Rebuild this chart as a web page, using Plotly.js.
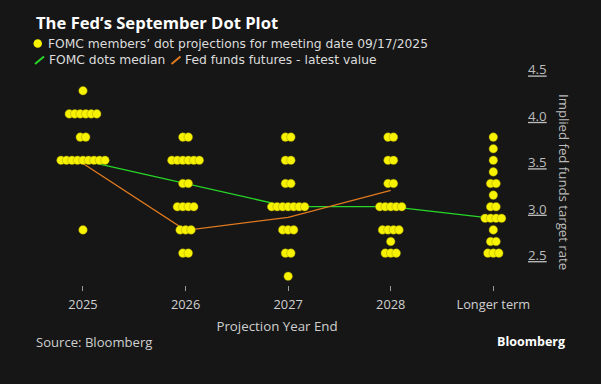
<!DOCTYPE html>
<html>
<head>
<meta charset="utf-8">
<script src="https://cdn.plot.ly/plotly-3.0.1.min.js"></script>
<style>html,body{margin:0;padding:0;background:#161616;}</style>
</head>
<body>
<div id="chart" style="width:601px;height:384px;"></div>
<script>
// ---- data ----
const categories = ['2025', '2026', '2027', '2028', 'Longer term'];
const dots2025 = [4.375,
  4.125, 4.125, 4.125, 4.125, 4.125, 4.125,
  3.875, 3.875,
  3.625, 3.625, 3.625, 3.625, 3.625, 3.625, 3.625, 3.625, 3.625,
  2.875];
const dots2026 = [3.875, 3.875,
  3.625, 3.625, 3.625, 3.625, 3.625, 3.625,
  3.375, 3.375,
  3.125, 3.125, 3.125, 3.125,
  2.875, 2.875, 2.875,
  2.625, 2.625];
const dots2027 = [3.875, 3.875,
  3.625, 3.625,
  3.375, 3.375,
  3.125, 3.125, 3.125, 3.125, 3.125, 3.125, 3.125,
  2.875, 2.875, 2.875,
  2.625, 2.625,
  2.375];
const dots2028 = [3.875, 3.875,
  3.625, 3.625,
  3.375, 3.375,
  3.125, 3.125, 3.125, 3.125, 3.125,
  2.875, 2.875, 2.875, 2.875,
  2.75,
  2.625, 2.625, 2.625];
const dotsLonger = [3.875, 3.75, 3.625, 3.5,
  3.375, 3.375,
  3.25,
  3.125, 3.125,
  3.0, 3.0, 3.0, 3.0,
  2.875,
  2.75, 2.75,
  2.625, 2.625, 2.625];
const medianValues = [3.625, 3.375, 3.125, 3.125, 3.0];
const futuresCategories = ['2025', '2026', '2027', '2028'];
const futuresValues = [3.59, 2.87, 3.01, 3.30];
const yTickValues = [2.5, 3.0, 3.5, 4.0, 4.5];
const yTickLabels = ['2.5', '3.0', '3.5', '4.0', '4.5'];

// ---- layout geometry ----
const W = 601, H = 384;
const M = {l: 30, r: 77, t: 60, b: 99};
const plotW = W - M.l - M.r, plotH = H - M.t - M.b;
const xRange = [-0.5166, 4.2990];
const yRange = [2.2812, 4.7058];
const pxPerCat = plotW / (xRange[1] - xRange[0]);
const dotStep = 5.5 / pxPerCat;   // horizontal spacing of stacked dots
const px2x = p => (p - M.l) / plotW;
const px2y = p => (H - M.b - p) / plotH;

const allDots = [dots2025, dots2026, dots2027, dots2028, dotsLonger];
const dx = [], dy = [];
allDots.forEach((vals, ci) => {
  const counts = {};
  vals.forEach(v => { counts[v] = (counts[v] || 0) + 1; });
  Object.keys(counts).forEach(k => {
    const n = counts[k];
    for (let j = 0; j < n; j++) {
      dx.push(ci + (j - (n - 1) / 2) * dotStep);
      dy.push(parseFloat(k));
    }
  });
});
const catIndex = c => categories.indexOf(c);

const FONT = '"Open Sans", "Liberation Sans", sans-serif';
const LFONT = '"DejaVu Sans", sans-serif';
const FS = 13.3;

const traces = [
  {
    x: categories.map(catIndex), y: medianValues,
    mode: 'lines', line: {color: '#27d827', width: 1.3},
    hoverinfo: 'skip', showlegend: false
  },
  {
    x: futuresCategories.map(catIndex), y: futuresValues,
    mode: 'lines', line: {color: '#e07a1f', width: 1.3},
    hoverinfo: 'skip', showlegend: false
  },
  {
    x: dx, y: dy, mode: 'markers',
    marker: {size: 8.6, color: '#f7f200', line: {color: 'rgba(150,140,0,0.7)', width: 0.6}},
    cliponaxis: false, showlegend: false
  },
  {
    x: futuresCategories.map(catIndex), y: futuresValues,
    mode: 'markers',
    marker: {size: 9, color: 'rgba(0,0,0,0)', symbol: 'circle-open', line: {color: '#d97a20', width: 1.2}},
    cliponaxis: false, showlegend: false
  }
];

const legendText = (text, xpx, ypx) => ({
  text: text, xref: 'paper', yref: 'paper',
  x: px2x(xpx), y: px2y(ypx), xanchor: 'left', yanchor: 'middle', showarrow: false,
  borderpad: 0,
  font: {family: LFONT, size: 12.3, color: '#dcdcdc'}
});

const layout = {
  width: W, height: H,
  margin: M,
  paper_bgcolor: '#161616', plot_bgcolor: '#161616',
  font: {family: FONT, color: '#cfcfcf', size: 12},
  showlegend: false,
  xaxis: {
    range: xRange, tickvals: categories.map((c, i) => i), ticktext: categories,
    showgrid: false, zeroline: false, showline: false,
    ticks: 'outside', ticklen: 5, tickwidth: 1, tickcolor: '#9a9a9a',
    ticklabelstandoff: 3,
    tickfont: {family: FONT, size: 12.8, color: '#cfcfcf'},
    title: {text: 'Projection Year End', font: {family: FONT, size: FS, color: '#cfcfcf'}, standoff: 9}
  },
  yaxis: {
    range: yRange, side: 'right', tickvals: yTickValues, ticktext: yTickLabels,
    showgrid: false, zeroline: false, showline: false, ticks: '',
    ticklabelposition: 'outside top', ticklabelstandoff: 3,
    tickfont: {family: FONT, size: FS, color: '#bdbdbd', lineposition: 'under'}
  },
  shapes: [
    {type: 'circle', xref: 'paper', yref: 'paper',
     x0: px2x(33.5), x1: px2x(42), y0: px2y(39.2), y1: px2y(47.7),
     fillcolor: '#f7f200', line: {width: 0}},
    {type: 'line', xref: 'paper', yref: 'paper',
     x0: px2x(35), y0: px2y(64), x1: px2x(44), y1: px2y(56.5),
     line: {color: '#27d827', width: 2}},
    {type: 'line', xref: 'paper', yref: 'paper',
     x0: px2x(171.5), y0: px2y(64), x1: px2x(180.5), y1: px2y(56.5),
     line: {color: '#e07a1f', width: 2}}
  ],
  annotations: [
    {text: '<b>The Fed’s September Dot Plot</b>', xref: 'paper', yref: 'paper',
     x: px2x(34), y: px2y(22.5), xanchor: 'left', yanchor: 'middle', showarrow: false,
     font: {family: FONT, size: 16.6, color: '#ffffff'}},
    legendText('FOMC members’ dot projections for meeting date 09/17/2025', 47, 43.5),
    legendText('FOMC dots median', 47.5, 60),
    legendText('Fed funds futures - latest value', 184, 60),
    {text: 'Implied fed funds target rate', xref: 'paper', yref: 'paper', textangle: 90,
     x: px2x(564), y: px2y(182), xanchor: 'center', yanchor: 'middle', showarrow: false,
     font: {family: FONT, size: 13.2, color: '#bdbdbd'}},
    {text: 'Source: Bloomberg', xref: 'paper', yref: 'paper',
     x: px2x(34), y: px2y(341.5), xanchor: 'left', yanchor: 'middle', showarrow: false,
     font: {family: FONT, size: 13.1, color: '#cfcfcf'}},
    {text: '<b>Bloomberg</b>', xref: 'paper', yref: 'paper',
     x: px2x(567), y: px2y(341.5), xanchor: 'right', yanchor: 'middle', showarrow: false,
     font: {family: FONT, size: 12.5, color: '#ffffff'}}
  ]
};

Plotly.newPlot('chart', traces, layout, {displayModeBar: false, staticPlot: true});
</script>
</body>
</html>
